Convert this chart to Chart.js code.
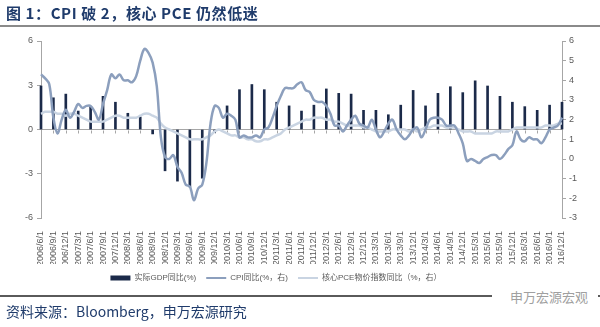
<!DOCTYPE html>
<html>
<head>
<meta charset="utf-8">
<script src="https://cdn.jsdelivr.net/npm/chart.js@4.4.1/dist/chart.umd.min.js"></script>
<style>
  body { margin: 0; background: #fff; }
  #quadro { position: relative; width: 600px; height: 327px; overflow: hidden; font-family: "Noto Sans CJK SC", sans-serif; }
  #grafico { position: absolute; left: 0; top: 0; }
  .titulo { position: absolute; left: 6px; top: 2px; font-size: 15px; font-weight: bold; letter-spacing: 0.6px; color: #1f3b6b; white-space: nowrap; }
  .linha-topo { position: absolute; left: 0; top: 25px; width: 600px; height: 2px; background: #8a8a8a; }
  .linha-base { position: absolute; left: 0; top: 295px; width: 600px; height: 2px; background: #5a5a5a; }
  .fonte { position: absolute; left: 6px; top: 301px; font-size: 14px; color: #1f3b6b; white-space: nowrap; }
  .marca { position: absolute; left: 492px; top: 287px; font-size: 13px; color: #a0a0a0; background: #fff; padding: 0 10px 0 18px; white-space: nowrap; }
</style>
</head>
<body>
<div id="quadro">
  <canvas id="grafico" width="600" height="327"></canvas>
  <div class="titulo">图 1：CPI 破 2，核心 PCE 仍然低迷</div>
  <div class="linha-topo"></div>
  <div class="linha-base"></div>
  <div class="marca">申万宏源宏观</div>
  <div class="fonte">资料来源：Bloomberg，申万宏源研究</div>
</div>
<script>
// rótulos trimestrais do eixo x
const trimestres = [
  '2006/6/1', '2006/9/1', '2006/12/1', '2007/3/1', '2007/6/1', '2007/9/1', '2007/12/1',
  '2008/3/1', '2008/6/1', '2008/9/1', '2008/12/1', '2009/3/1', '2009/6/1', '2009/9/1', '2009/12/1',
  '2010/3/1', '2010/6/1', '2010/9/1', '2010/12/1', '2011/3/1', '2011/6/1', '2011/9/1', '2011/12/1',
  '2012/3/1', '2012/6/1', '2012/9/1', '2012/12/1', '2013/3/1', '2013/6/1', '2013/9/1', '2013/12/1',
  '2014/3/1', '2014/6/1', '2014/9/1', '2014/12/1', '2015/3/1', '2015/6/1', '2015/9/1', '2015/12/1',
  '2016/3/1', '2016/6/1', '2016/9/1', '2016/12/1'
];

// PIB real, variação anual (%), eixo esquerdo - um valor por trimestre
const pibReal = [
  2.95, 2.15, 2.4, 1.25, 1.55, 2.25, 1.85, 1.1, 0.85, -0.3, -2.8, -3.5, -3.9, -3.3, -0.2,
  1.6, 2.7, 3.05, 2.7, 1.85, 1.6, 1.25, 1.65, 2.75, 2.45, 2.4, 1.3, 1.3, 1.0, 1.65, 2.65,
  1.6, 2.45, 2.9, 2.5, 3.3, 2.95, 2.25, 1.85, 1.55, 1.3, 1.65, 1.85
];

// CPI mensal, variação anual (%), eixo direito - 2006/6 a 2016/12
const cpi = [
  4.3, 4.1, 3.8, 2.1, 1.3, 2.0, 2.5,
  2.1, 2.4, 2.8, 2.6, 2.7, 2.7, 2.4, 2.0, 2.8, 3.5, 4.3, 4.1,
  4.3, 4.0, 4.0, 3.9, 4.2, 5.0, 5.6, 5.4, 4.9, 3.7, 1.1, 0.1,
  0.0, 0.2, -0.4, -0.7, -1.3, -1.4, -2.1, -1.5, -1.3, -0.2, 1.8, 2.7,
  2.6, 2.1, 2.3, 2.2, 2.0, 1.1, 1.2, 1.1, 1.1, 1.2, 1.1, 1.5,
  1.6, 2.1, 2.7, 3.2, 3.6, 3.6, 3.6, 3.8, 3.9, 3.5, 3.4, 3.0,
  2.9, 2.9, 2.7, 2.3, 1.7, 1.7, 1.4, 1.7, 2.0, 2.2, 1.8, 1.7,
  1.6, 2.0, 1.5, 1.1, 1.4, 1.8, 2.0, 1.5, 1.2, 1.0, 1.2, 1.5,
  1.6, 1.1, 1.5, 2.0, 2.1, 2.1, 2.0, 1.7, 1.7, 1.7, 1.3, 0.8,
  -0.1, 0.0, -0.1, -0.2, 0.0, 0.1, 0.2, 0.2, 0.0, 0.2, 0.5, 0.7,
  1.4, 1.0, 0.9, 1.1, 1.0, 1.0, 0.8, 1.1, 1.5, 1.6, 1.7, 2.1
];

// PCE núcleo mensal, variação anual (%), eixo direito
const pceNucleo = [
  2.3, 2.4, 2.4, 2.4, 2.3, 2.3, 2.2,
  2.3, 2.3, 2.2, 2.1, 2.0, 1.9, 1.9, 1.9, 1.9, 2.0, 2.1, 2.2,
  2.2, 2.1, 2.1, 2.1, 2.1, 2.2, 2.3, 2.3, 2.2, 2.1, 1.8, 1.6,
  1.5, 1.4, 1.3, 1.2, 1.1, 1.0, 1.0, 1.0, 1.0, 1.1, 1.2, 1.4,
  1.5, 1.4, 1.3, 1.2, 1.2, 1.1, 1.1, 1.0, 1.0, 0.9, 0.9, 1.0,
  1.0, 1.1, 1.2, 1.3, 1.5, 1.6, 1.7, 1.8, 1.9, 2.0, 2.0, 2.1,
  2.1, 2.1, 2.0, 2.0, 1.9, 1.9, 1.8, 1.7, 1.7, 1.7, 1.7, 1.6,
  1.6, 1.5, 1.4, 1.4, 1.4, 1.4, 1.5, 1.5, 1.5, 1.5, 1.4, 1.5,
  1.4, 1.5, 1.6, 1.6, 1.7, 1.7, 1.7, 1.6, 1.6, 1.6, 1.5, 1.4,
  1.4, 1.4, 1.3, 1.3, 1.3, 1.3, 1.3, 1.4, 1.4, 1.4, 1.4, 1.5,
  1.6, 1.6, 1.6, 1.6, 1.6, 1.6, 1.6, 1.7, 1.7, 1.7, 1.8, 1.8
];

const corPib = '#1b2a49';
const corCpi = '#8c9fbd';
const corPce = '#c9d4e2';
const corEixo = '#a6a6a6';
const corTexto = '#595959';

// categorias mensais: cada trimestre seguido dos dois meses seguintes
const meses = [];
trimestres.forEach((t, i) => {
  meses.push(t);
  if (i === trimestres.length - 1) return;
  const [ano, mes] = t.split('/').map(Number);
  for (let k = 1; k <= 2; k++) {
    const m = mes + k;
    meses.push(m > 12 ? `${ano + 1}/${m - 12}/1` : `${ano}/${m}/1`);
  }
});

// barras só nos meses de fim de trimestre
const barrasPib = meses.map((_, i) => (i % 3 === 0 ? pibReal[i / 3] : null));

Chart.defaults.font.family = '"Liberation Sans", "Noto Sans CJK SC", sans-serif';
Chart.defaults.color = corTexto;

// marquinhas do eixo horizontal sobre a linha do zero
const marcasZero = {
  id: 'marcasZero',
  beforeDatasetsDraw(chart) {
    const { ctx, scales: { x, y } } = chart;
    const y0 = Math.round(y.getPixelForValue(0)) + 0.5;
    ctx.save();
    ctx.strokeStyle = corEixo;
    ctx.lineWidth = 1;
    ctx.beginPath();
    for (let i = 0; i < meses.length; i += 3) {
      const px = Math.round(x.getPixelForValue(i)) + 0.5;
      ctx.moveTo(px, y0);
      ctx.lineTo(px, y0 + 3);
    }
    ctx.stroke();
    ctx.restore();
  }
};

// legenda um pouco para a esquerda
const deslocaLegenda = {
  id: 'deslocaLegenda',
  afterLayout(chart) {
    chart.legend.left -= 24;
    chart.legend.right -= 24;
  }
};

const ctx = document.getElementById('grafico').getContext('2d');

new Chart(ctx, {
  data: {
    labels: meses,
    datasets: [
      {
        type: 'bar',
        label: '实际GDP同比(%)',
        data: barrasPib,
        backgroundColor: corPib,
        barThickness: 2,
        yAxisID: 'y',
        clip: false,
        order: 3
      },
      {
        type: 'line',
        label: 'CPI同比(%，右)',
        data: cpi,
        borderColor: corCpi,
        backgroundColor: corCpi,
        borderWidth: 2.5,
        pointRadius: 0,
        tension: 0.35,
        yAxisID: 'y1',
        order: 1
      },
      {
        type: 'line',
        label: '核心PCE物价指数同比（%，右）',
        data: pceNucleo,
        borderColor: corPce,
        backgroundColor: corPce,
        borderWidth: 2.5,
        pointRadius: 0,
        tension: 0.35,
        yAxisID: 'y1',
        order: 2
      }
    ]
  },
  options: {
    responsive: false,
    animation: false,
    layout: { padding: { top: 41, left: 0, right: 0, bottom: 35 } },
    plugins: {
      title: { display: false },
      tooltip: { enabled: false },
      legend: {
        position: 'bottom',
        labels: {
          font: { size: 8 },
          color: corTexto,
          usePointStyle: true,
          pointStyleWidth: 20,
          boxHeight: 5,
          padding: 10,
          sort: (a, b) => a.datasetIndex - b.datasetIndex,
          generateLabels(chart) {
            const itens = Chart.defaults.plugins.legend.labels.generateLabels(chart);
            itens.forEach(it => {
              if (it.datasetIndex === 0) {
                it.pointStyle = 'rect';
                it.lineWidth = 0;
              } else {
                it.pointStyle = 'line';
                it.lineWidth = 2;
              }
            });
            return itens;
          }
        }
      }
    },
    scales: {
      x: {
        offset: false,
        grid: { display: false },
        border: { display: false },
        ticks: {
          autoSkip: false,
          maxRotation: 90,
          minRotation: 90,
          padding: 5,
          font: { size: 9 },
          callback(valor, i) {
            return i % 3 === 0 ? this.getLabelForValue(valor) : '';
          }
        },
        afterFit(escala) { escala.height = 46; }
      },
      y: {
        position: 'left',
        min: -6,
        max: 6,
        ticks: { stepSize: 3, padding: 4, font: { size: 9 } },
        grid: {
          color: c => (c.tick && c.tick.value === 0 ? corEixo : 'transparent'),
          tickColor: corEixo,
          tickLength: 4
        },
        border: { color: corEixo },
        afterFit(escala) { escala.width = 41; }
      },
      y1: {
        position: 'right',
        min: -3,
        max: 6,
        ticks: { stepSize: 1, padding: 3, font: { size: 9 } },
        grid: { drawOnChartArea: false, tickColor: corEixo, tickLength: 4 },
        border: { color: corEixo },
        afterFit(escala) { escala.width = 38; }
      }
    }
  },
  plugins: [marcasZero, deslocaLegenda]
});
</script>
</body>
</html>
